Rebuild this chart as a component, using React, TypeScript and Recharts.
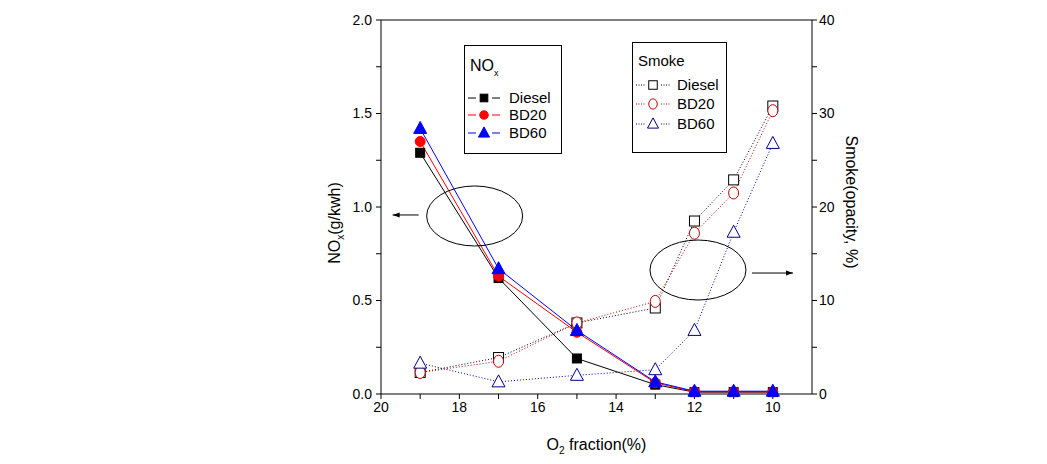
import React from "react";
import {
  ComposedChart,
  Line,
  XAxis,
  YAxis,
  ReferenceLine,
  ReferenceDot,
} from "recharts";

// O2 fraction (%) on the x axis
const o2 = [19, 17, 15, 13, 12, 11, 10];

// NOx (g/kWh), left axis
const noxDiesel = [1.29, 0.62, 0.19, 0.05, 0.01, 0.01, 0.01];
const noxBD20 = [1.35, 0.63, 0.33, 0.06, 0.012, 0.012, 0.012];
const noxBD60 = [1.42, 0.67, 0.34, 0.065, 0.015, 0.015, 0.015];

// Smoke opacity (%), right axis
const smokeDiesel = [2.3, 3.9, 7.6, 9.2, 18.5, 22.9, 30.8];
const smokeBD20 = [2.3, 3.5, 7.6, 9.9, 17.2, 21.5, 30.3];
const smokeBD60 = [3.3, 1.3, 2.0, 2.6, 6.8, 17.3, 26.8];

const xTicks = [10, 11, 12, 13, 14, 15, 16, 17, 18, 19, 20];
const leftTicks = [0, 0.25, 0.5, 0.75, 1, 1.25, 1.5, 1.75, 2];
const rightTicks = [0, 5, 10, 15, 20, 25, 30, 35, 40];

const FONT = "'Liberation Sans', Arial, sans-serif";
const BLACK = "#000000";
const RED = "#ff0000";
const BLUE = "#0000ff";
const DARK_RED = "#c00000";
const NAVY = "#000090";

const data = o2.map((x, i) => ({
  o2: x,
  noxDiesel: noxDiesel[i],
  noxBD20: noxBD20[i],
  noxBD60: noxBD60[i],
  smokeDiesel: smokeDiesel[i],
  smokeBD20: smokeBD20[i],
  smokeBD60: smokeBD60[i],
}));

type Kind = "square" | "circle" | "triangle";

function Marker({
  kind,
  cx,
  cy,
  color,
  filled,
  scale = 1,
}: {
  kind: Kind;
  cx: number;
  cy: number;
  color: string;
  filled: boolean;
  scale?: number;
}) {
  const fill = filled ? color : "#ffffff";
  if (kind === "square") {
    const s = (filled ? 9 : 10) * scale;
    return (
      <rect x={cx - s / 2} y={cy - s / 2} width={s} height={s} fill={fill} stroke={color} strokeWidth={1} />
    );
  }
  if (kind === "circle") {
    return filled ? (
      <circle cx={cx} cy={cy} r={5 * scale} fill={fill} stroke={color} />
    ) : (
      <ellipse cx={cx} cy={cy} rx={5 * scale} ry={6 * scale} fill={fill} stroke={color} />
    );
  }
  const w = 13 * scale;
  const h = 12 * scale;
  return (
    <polygon
      points={`${cx},${cy - h / 2 - 1} ${cx - w / 2},${cy + h / 2 - 1} ${cx + w / 2},${cy + h / 2 - 1}`}
      fill={fill}
      stroke={color}
    />
  );
}

const dotFor = (kind: Kind, color: string, filled: boolean) => (p: any) =>
  <Marker key={p.index} kind={kind} cx={p.cx} cy={p.cy} color={color} filled={filled} />;

const tickStyle = { fontSize: 14, fill: BLACK, fontFamily: FONT };

function EllipseArrow({ cx, cy, side }: { cx?: number; cy?: number; side: "left" | "right" }) {
  if (cx == null || cy == null) return null;
  const ay = side === "left" ? cy - 1 : cy + 3;
  const x1 = side === "left" ? cx - 56 : cx + 54;
  const x2 = side === "left" ? cx - 82 : cx + 95;
  const dir = side === "left" ? -1 : 1;
  return (
    <g>
      <ellipse cx={cx} cy={cy} rx={48} ry={30} fill="none" stroke={BLACK} strokeWidth={1} />
      <line x1={x1} y1={ay} x2={x2} y2={ay} stroke={BLACK} strokeWidth={1} />
      <polygon
        points={`${x2},${ay} ${x2 - dir * 7},${ay - 2.5} ${x2 - dir * 7},${ay + 2.5}`}
        fill={BLACK}
      />
    </g>
  );
}

const noxSeries = [
  { name: "Diesel", key: "noxDiesel", kind: "square" as Kind, color: BLACK },
  { name: "BD20", key: "noxBD20", kind: "circle" as Kind, color: RED },
  { name: "BD60", key: "noxBD60", kind: "triangle" as Kind, color: BLUE },
];
const smokeSeries = [
  { name: "Diesel", key: "smokeDiesel", kind: "square" as Kind, color: BLACK },
  { name: "BD20", key: "smokeBD20", kind: "circle" as Kind, color: DARK_RED },
  { name: "BD60", key: "smokeBD60", kind: "triangle" as Kind, color: NAVY },
];

function LegendBox({
  left,
  top,
  width,
  height,
  title,
  titleTop,
  rows,
  rowTops,
  dashed,
  filled,
  symLeft,
  seg,
  gap,
}: {
  left: number;
  top: number;
  width: number;
  height: number;
  title: React.ReactNode;
  titleTop: number;
  rows: typeof noxSeries;
  rowTops: number[];
  dashed: boolean;
  filled: boolean;
  symLeft: number;
  seg: number;
  gap: number;
}) {
  const mid = 18;
  return (
    <div
      style={{
        position: "absolute",
        left,
        top,
        width,
        height,
        boxSizing: "border-box",
        border: "1px solid #000",
        background: "#fff",
        fontFamily: FONT,
        color: "#000",
      }}
    >
      <div style={{ position: "absolute", left: 5, top: titleTop, fontSize: 15, lineHeight: "16px" }}>{title}</div>
      {rows.map((r, i) => (
        <div key={r.key} style={{ position: "absolute", left: 0, top: rowTops[i], height: 18, width: "100%" }}>
          <svg width={38} height={18} style={{ position: "absolute", left: symLeft, top: 0 }}>
            <line
              x1={mid - gap - seg}
              y1={9}
              x2={mid - gap}
              y2={9}
              stroke={r.color}
              strokeWidth={1}
              strokeDasharray={dashed ? "1 1.5" : undefined}
            />
            <line
              x1={mid + gap}
              y1={9}
              x2={mid + gap + seg}
              y2={9}
              stroke={r.color}
              strokeWidth={1}
              strokeDasharray={dashed ? "1 1.5" : undefined}
            />
            <Marker kind={r.kind} cx={mid} cy={9} color={r.color} filled={filled} scale={0.85} />
          </svg>
          <span style={{ position: "absolute", left: 44, top: 0, fontSize: 15, lineHeight: "18px" }}>{r.name}</span>
        </div>
      ))}
    </div>
  );
}

export default function App() {
  return (
    <div style={{ position: "absolute", left: 0, top: 0, width: 1047, height: 464, background: "#fff" }}>
      <ComposedChart
        width={1047}
        height={464}
        data={data}
        margin={{ top: 20, right: 175, bottom: 40, left: 321 }}
      >
        <XAxis
          dataKey="o2"
          type="number"
          domain={[9, 20]}
          reversed
          ticks={xTicks}
          interval={0}
          height={30}
          stroke={BLACK}
          tickSize={5}
          tickMargin={3}
          tick={tickStyle}
          tickFormatter={(v: number) => (v % 2 === 0 ? String(v) : "")}
          label={{
            content: (p: any) => {
              const vb = p.viewBox;
              return (
                <text x={vb.x + vb.width / 2} y={450} textAnchor="middle" fontSize={16} fontFamily={FONT} fill={BLACK}>
                  O<tspan fontSize={10} dy={4}>2</tspan>
                  <tspan dy={-4}> fraction(%)</tspan>
                </text>
              );
            },
          }}
        />
        <YAxis
          yAxisId="left"
          domain={[0, 2]}
          ticks={leftTicks}
          interval={0}
          width={60}
          stroke={BLACK}
          tickSize={5}
          tickMargin={4}
          tick={tickStyle}
          tickFormatter={(v: number) => (Math.abs(v * 2 - Math.round(v * 2)) < 1e-6 ? v.toFixed(1) : "")}
          label={{
            content: () => (
              <text
                x={340}
                y={223}
                transform="rotate(-90 340 223)"
                textAnchor="middle"
                fontSize={16}
                fontFamily={FONT}
                fill={BLACK}
              >
                NO<tspan fontSize={10} dy={4}>x</tspan>
                <tspan dy={-4}>(g/kwh)</tspan>
              </text>
            ),
          }}
        />
        <YAxis
          yAxisId="right"
          orientation="right"
          domain={[0, 40]}
          ticks={rightTicks}
          interval={0}
          width={60}
          stroke={BLACK}
          tickSize={5}
          tickMargin={2}
          tick={tickStyle}
          tickFormatter={(v: number) => (v % 10 === 0 ? String(v) : "")}
          label={{
            content: () => (
              <text
                x={846}
                y={202}
                transform="rotate(90 846 202)"
                textAnchor="middle"
                fontSize={16}
                fontFamily={FONT}
                fill={BLACK}
              >
                Smoke(opacity, %)
              </text>
            ),
          }}
        />
        <ReferenceLine yAxisId="left" y={2} stroke={BLACK} strokeWidth={1} />

        {smokeSeries.map((s) => (
          <Line
            key={s.key}
            yAxisId="right"
            dataKey={s.key}
            type="linear"
            stroke={s.color}
            strokeWidth={1}
            strokeDasharray="1 2"
            dot={dotFor(s.kind, s.color, false)}
            activeDot={false}
            isAnimationActive={false}
          />
        ))}
        {noxSeries.map((s) => (
          <Line
            key={s.key}
            yAxisId="left"
            dataKey={s.key}
            type="linear"
            stroke={s.color}
            strokeWidth={1}
            dot={dotFor(s.kind, s.color, true)}
            activeDot={false}
            isAnimationActive={false}
          />
        ))}

        <ReferenceDot
          yAxisId="left"
          x={17.61}
          y={0.952}
          shape={(p: any) => <EllipseArrow cx={p.cx} cy={p.cy} side="left" />}
        />
        <ReferenceDot
          yAxisId="right"
          x={11.91}
          y={13.26}
          shape={(p: any) => <EllipseArrow cx={p.cx} cy={p.cy} side="right" />}
        />
      </ComposedChart>

      <LegendBox
        left={464}
        top={45}
        width={98}
        height={109}
        title={
          <span style={{ fontSize: 16 }}>
            NO<sub style={{ fontSize: 9, verticalAlign: "-5px" }}>x</sub>
          </span>
        }
        titleTop={12}
        rows={noxSeries}
        rowTops={[43, 60, 78]}
        dashed={false}
        filled={true}
        symLeft={1}
        seg={8}
        gap={8}
      />
      <LegendBox
        left={632}
        top={42}
        width={95}
        height={111}
        title={<span style={{ fontSize: 15 }}>Smoke</span>}
        titleTop={10}
        rows={smokeSeries}
        rowTops={[33, 52, 72]}
        dashed={true}
        filled={false}
        symLeft={2}
        seg={9}
        gap={8}
      />
    </div>
  );
}
